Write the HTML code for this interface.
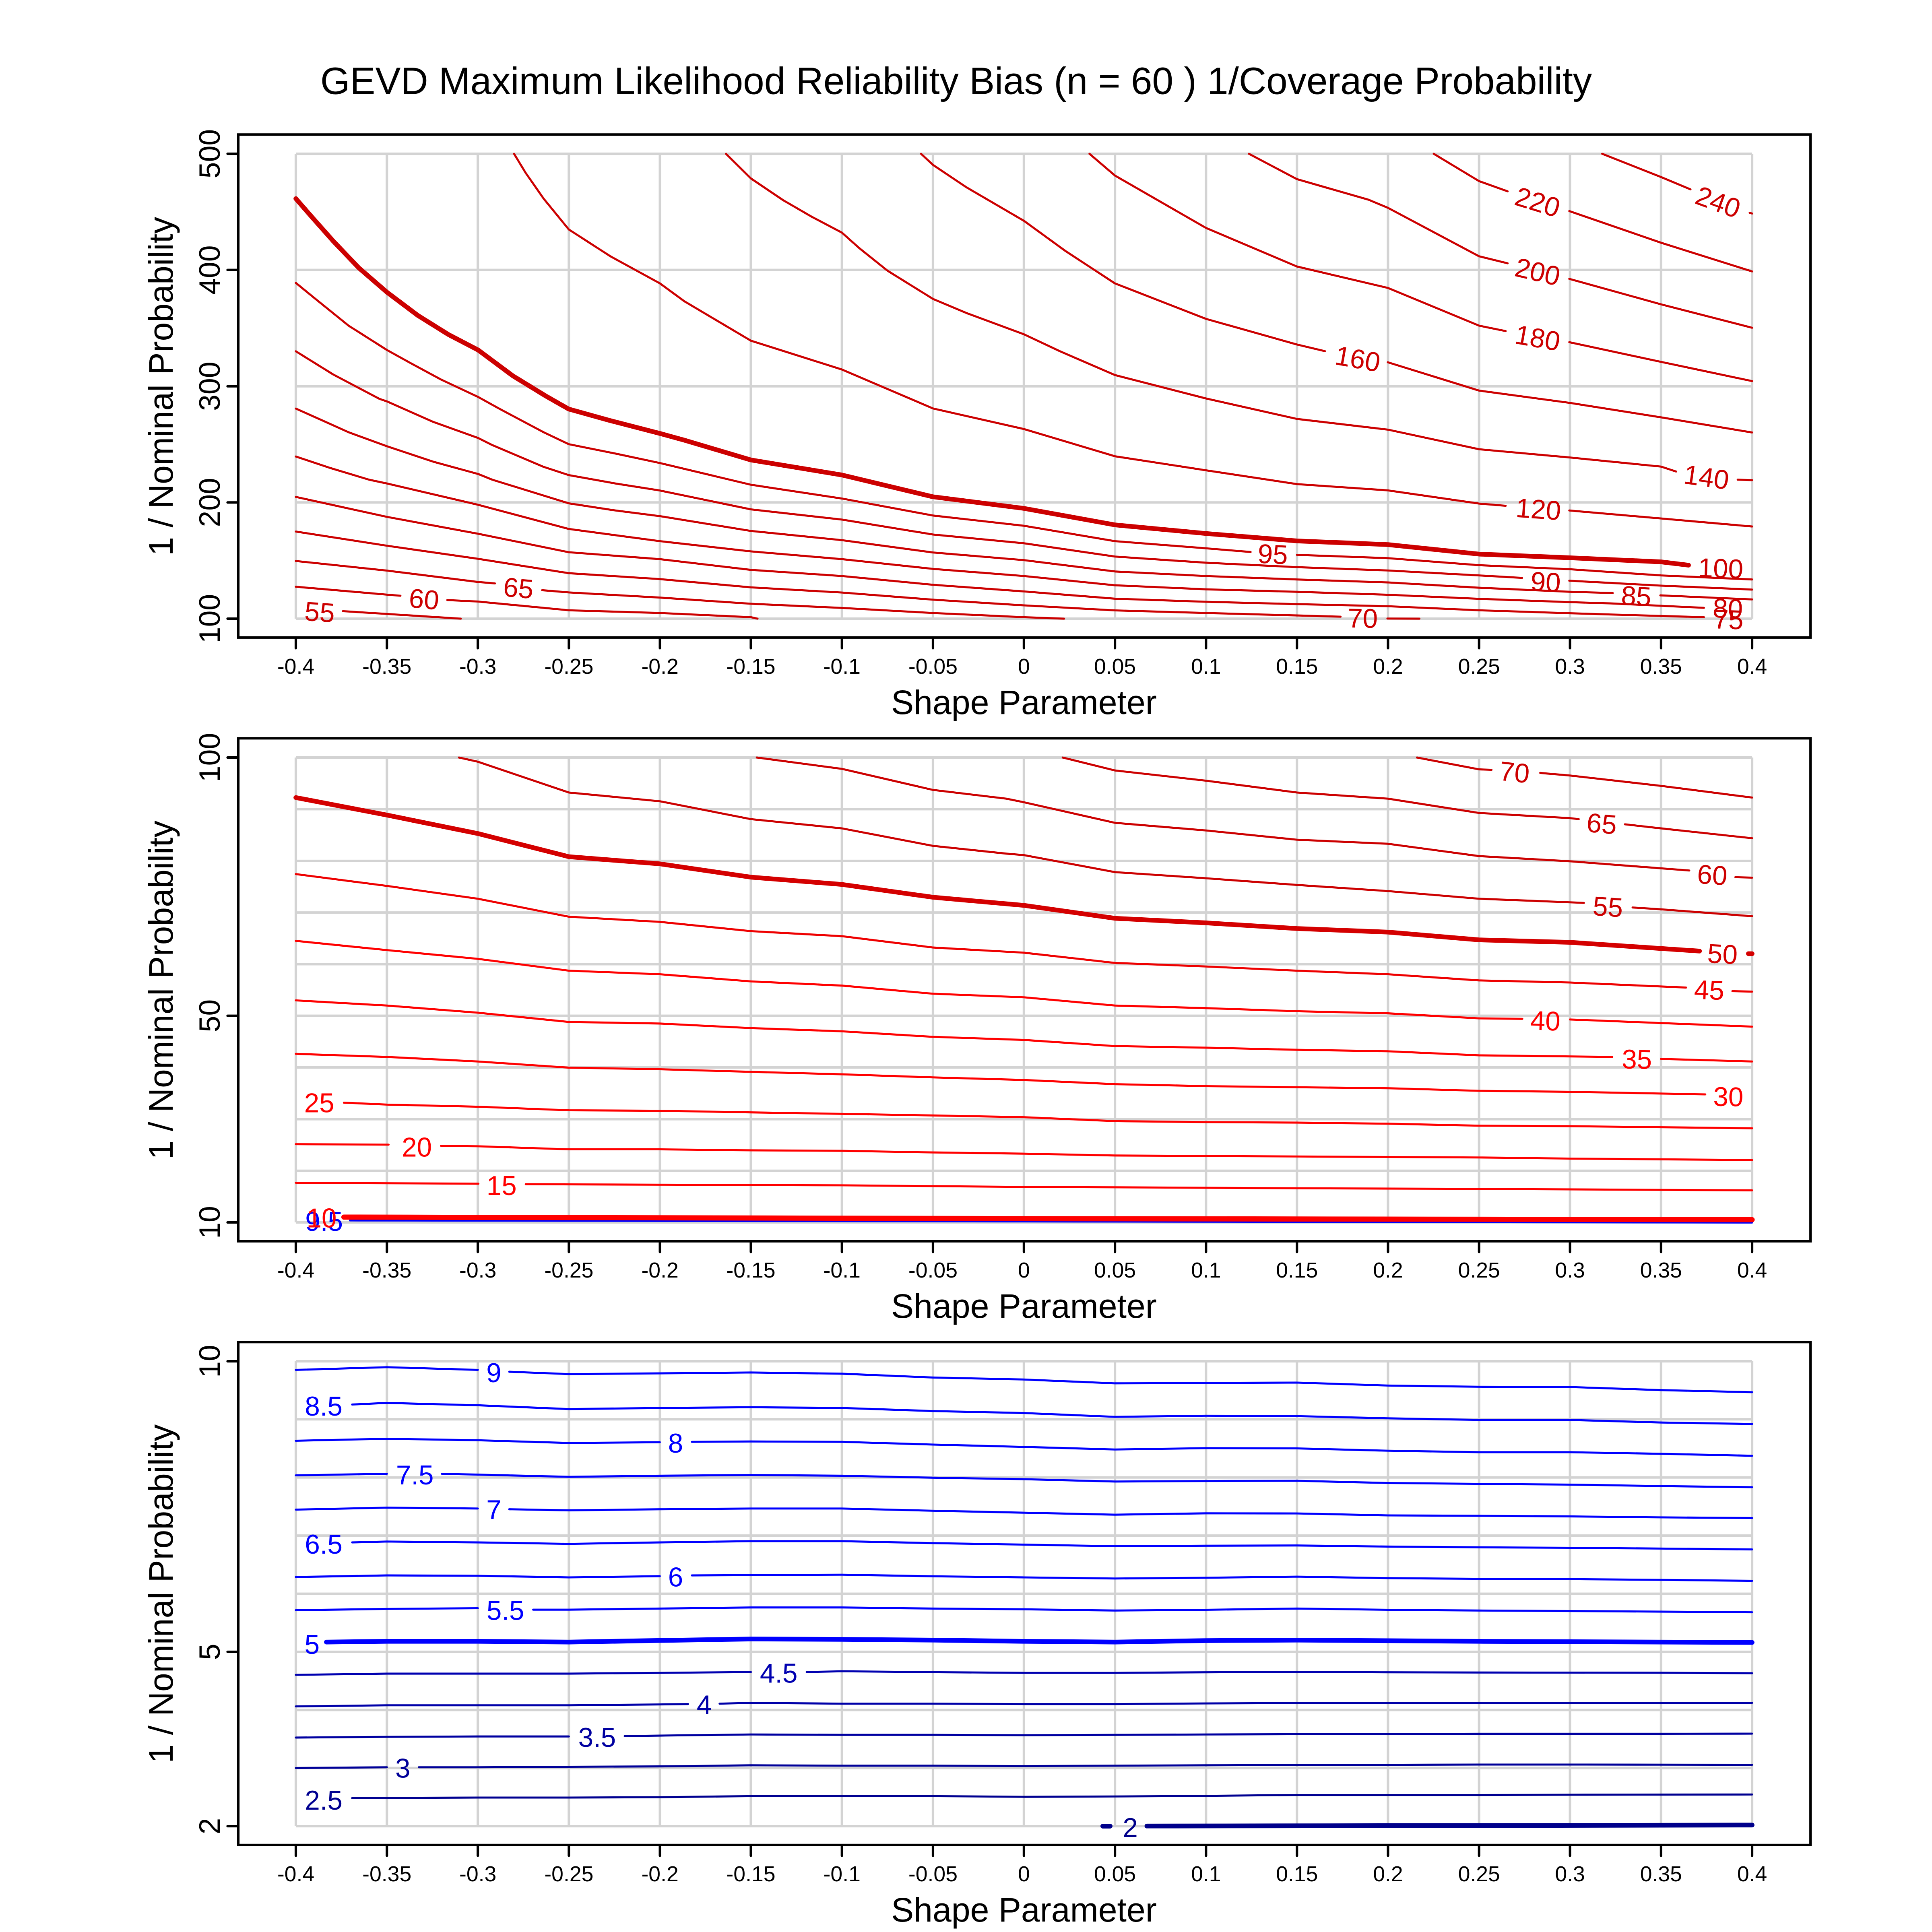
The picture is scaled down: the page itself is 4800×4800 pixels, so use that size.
<!DOCTYPE html>
<html>
<head>
<meta charset="utf-8">
<style>
html,body{margin:0;padding:0;background:#fff;}
svg{display:block;}
text{font-family:"Liberation Sans",Arial,sans-serif;}
</style>
</head>
<body>
<svg xmlns="http://www.w3.org/2000/svg" width="4800" height="4800" viewBox="0 0 1568 1568">
<rect x="0" y="0" width="1568" height="1568" fill="#fff"/>

<!-- Title -->
<text x="260" y="76.2" font-size="30.9" textLength="1032" lengthAdjust="spacingAndGlyphs" fill="#000">GEVD Maximum Likelihood Reliability Bias (n = 60 ) 1/Coverage Probability</text>

<!-- ===================== GRIDLINES ===================== -->
<g stroke="#D3D3D3" stroke-width="2" fill="none">
  <line x1="240.1" y1="124.8" x2="1422" y2="124.8"/>
  <line x1="240.1" y1="219.1" x2="1422" y2="219.1"/>
  <line x1="240.1" y1="313.5" x2="1422" y2="313.5"/>
  <line x1="240.1" y1="407.8" x2="1422" y2="407.8"/>
  <line x1="240.1" y1="502.1" x2="1422" y2="502.1"/>
  <line x1="240.1" y1="614.8" x2="1422" y2="614.8"/>
  <line x1="240.1" y1="656.7" x2="1422" y2="656.7"/>
  <line x1="240.1" y1="698.7" x2="1422" y2="698.7"/>
  <line x1="240.1" y1="740.6" x2="1422" y2="740.6"/>
  <line x1="240.1" y1="782.5" x2="1422" y2="782.5"/>
  <line x1="240.1" y1="824.4" x2="1422" y2="824.4"/>
  <line x1="240.1" y1="866.3" x2="1422" y2="866.3"/>
  <line x1="240.1" y1="908.3" x2="1422" y2="908.3"/>
  <line x1="240.1" y1="950.2" x2="1422" y2="950.2"/>
  <line x1="240.1" y1="992.1" x2="1422" y2="992.1"/>
  <line x1="240.1" y1="1104.8" x2="1422" y2="1104.8"/>
  <line x1="240.1" y1="1151.9" x2="1422" y2="1151.9"/>
  <line x1="240.1" y1="1199.1" x2="1422" y2="1199.1"/>
  <line x1="240.1" y1="1246.3" x2="1422" y2="1246.3"/>
  <line x1="240.1" y1="1293.5" x2="1422" y2="1293.5"/>
  <line x1="240.1" y1="1340.6" x2="1422" y2="1340.6"/>
  <line x1="240.1" y1="1387.8" x2="1422" y2="1387.8"/>
  <line x1="240.1" y1="1434.9" x2="1422" y2="1434.9"/>
  <line x1="240.1" y1="1482.1" x2="1422" y2="1482.1"/>
  <path d="M240.1 124.8V502.1M314 124.8V502.1M387.8 124.8V502.1M461.7 124.8V502.1M535.6 124.8V502.1M609.4 124.8V502.1M683.3 124.8V502.1M757.2 124.8V502.1M831 124.8V502.1M904.9 124.8V502.1M978.8 124.8V502.1M1052.6 124.8V502.1M1126.5 124.8V502.1M1200.4 124.8V502.1M1274.2 124.8V502.1M1348.1 124.8V502.1M1422 124.8V502.1"/>
  <path d="M240.1 614.8V992.1M314 614.8V992.1M387.8 614.8V992.1M461.7 614.8V992.1M535.6 614.8V992.1M609.4 614.8V992.1M683.3 614.8V992.1M757.2 614.8V992.1M831 614.8V992.1M904.9 614.8V992.1M978.8 614.8V992.1M1052.6 614.8V992.1M1126.5 614.8V992.1M1200.4 614.8V992.1M1274.2 614.8V992.1M1348.1 614.8V992.1M1422 614.8V992.1"/>
  <path d="M240.1 1104.8V1482.1M314 1104.8V1482.1M387.8 1104.8V1482.1M461.7 1104.8V1482.1M535.6 1104.8V1482.1M609.4 1104.8V1482.1M683.3 1104.8V1482.1M757.2 1104.8V1482.1M831 1104.8V1482.1M904.9 1104.8V1482.1M978.8 1104.8V1482.1M1052.6 1104.8V1482.1M1126.5 1104.8V1482.1M1200.4 1104.8V1482.1M1274.2 1104.8V1482.1M1348.1 1104.8V1482.1M1422 1104.8V1482.1"/>
</g>

<!-- ===================== PANEL 1 CONTOURS ===================== -->
<g fill="none" stroke="#CC0000" stroke-width="1.65" stroke-linecap="round" stroke-linejoin="round">
  <polyline points="1300.3,124.8 1348.1,143.7 1372,153.7"/>
  <polyline points="1420,172.7 1422,173.3"/>
  <polyline points="1163.6,124.8 1200.4,147 1223.6,155.3"/>
  <polyline points="1273.6,171.3 1348.1,197 1422,220.3"/>
  <polyline points="1013.6,124.8 1052.6,145.4 1110.7,162.1 1126.5,168.7 1200.4,208 1223.6,213.7"/>
  <polyline points="1273.6,226.3 1348.1,247 1422,266"/>
  <polyline points="884.2,124.8 904.9,142.5 978.8,185 1052.6,216.3 1126.5,233.7 1200.4,264.3 1222,268.7"/>
  <polyline points="1273.6,277.7 1348.1,293.7 1422,309.3"/>
  <polyline points="747.5,124.8 757.2,133.8 784.5,152.1 831,179.2 864.7,203.7 904.9,230 978.8,258.8 1052.6,279.6 1075.3,285"/>
  <polyline points="1126.3,294 1200.4,317 1274.2,327 1348.1,338.7 1422,351"/>
  <polyline points="589.2,124.8 609.4,144.8 635.5,162.4 658.4,175.7 683.3,188.8 697.4,201.4 720.3,219.7 757.2,242.6 784.5,254.1 831,271.3 860.1,285 904.9,304.4 978.8,323.4 1052.6,340 1126.5,348.7 1200.4,364.6 1274.2,371.3 1348.1,378.7 1360.3,382.7"/>
  <polyline points="1410.3,389.3 1422,389.7"/>
  <polyline points="417.2,124.8 426.6,140.3 441.2,161.2 461.6,186.2 495.4,208 535.6,230 555.4,244.5 609.4,276.5 683.3,299.9 757.2,331.5 831,348.2 904.9,370.3 978.8,381.7 1052.6,392.9 1126.5,398 1200.4,408.7 1222,410.5"/>
  <polyline points="1273.6,414.3 1348.1,420.8 1422,427.3"/>
  <polyline stroke-width="3.8" points="240.1,161.2 253.7,176.8 270.4,195.6 291.2,217.4 314.1,237.2 339.1,256 364.1,271.6 388.1,284.1 416.2,305 443.3,321.6 461.6,332 495.4,341.4 535.6,351.8 555.3,357.2 609.4,373.3 683.3,385.5 757.2,403.2 831,412.6 904.9,426 978.8,433 1052.6,439 1126.5,442 1200.4,449.7 1274.2,452.7 1348.1,456 1370.4,458.7"/>
  <polyline points="240.1,229.6 255.8,242.4 282.9,264.3 314.1,284.1 332.9,294.5 357.9,308 388.1,322.2 405.8,332 441.2,350.8 461.6,360.5 499.5,368.1 535.6,375.8 609.4,393.4 683.3,404.6 757.2,418.4 831,426.7 904.9,439.2 978.8,445 1015,448"/>
  <polyline points="1052.6,450.3 1126.5,453 1200.4,458.7 1274.2,462 1348.1,467 1422,470.3"/>
  <polyline points="240.1,285.1 270.4,303.9 307.9,323.7 314.1,325.8 351.6,342.4 388.1,355.5 399.5,361.2 441.2,378.9 461.6,385.6 499.5,392.4 535.6,398.1 609.4,413.4 683.3,421.7 757.2,433.8 831,440.9 904.9,451.7 978.8,456.7 1052.6,460.3 1126.5,463 1200.4,467 1235.3,469"/>
  <polyline points="1273.6,471.3 1348.1,475.3 1422,478.5"/>
  <polyline points="240.1,331.6 262,341.4 282.9,350.8 314.1,362.2 351.6,374.7 388.1,384.7 399.5,389.3 461.6,408.5 499.5,414.3 535.6,418.9 609.4,430.9 683.3,438.4 757.2,448.4 831,454.6 904.9,463.8 978.8,467.5 1052.6,470.3 1126.5,472.7 1200.4,477 1274.2,480.3 1308.9,481.3"/>
  <polyline points="1347.5,483.2 1422,486.5"/>
  <polyline points="240.1,370.5 268.3,379.9 299.5,389.3 314.1,392.4 388.1,409.7 461.6,429.3 535.6,439.2 609.4,447.5 683.3,453.8 757.2,461.7 831,467.5 904.9,475 978.8,478.3 1052.6,480.3 1126.5,482.7 1200.4,486 1274.2,488.7 1306.7,489.7 1382.9,493.3"/>
  <polyline points="240.1,403.3 314.1,419.5 388.1,433.2 461.7,448.2 535.6,453.8 609.4,462.5 683.3,467.5 757.2,474.6 831,480 904.9,485.9 978.8,488.4 1052.6,490.3 1126.5,492 1200.4,495.3 1274.2,497.7 1306.7,498.7 1382.9,500.9"/>
  <polyline points="240.1,431.4 314,442.9 387.8,453.5 461.7,465.2 535.6,470 609.4,476.7 683.3,480.9 757.2,486.7 831,491.3 904.9,495.4 978.8,497.5 1052.6,499.5 1088,500.5"/>
  <polyline points="1126,502 1152,502.1"/>
  <polyline points="240.1,455.3 314,463.1 387.8,472.3 401.7,473.5"/>
  <polyline points="440,479 461.7,480.8 535.6,485 609.4,490 683.3,493.4 757.2,497.5 831,500.9 863.6,502.1"/>
  <polyline points="240.1,476.2 314,482.6 325,483.5"/>
  <polyline points="363,487 387.8,488.2 461.7,495.3 535.6,497.5 609.4,500.9 614.8,502.1"/>
  <polyline points="278.3,496 374,502.1"/>
</g>
<g fill="#CC0000" font-size="22" text-anchor="middle">
  <text x="1394.5" y="171.6" transform="rotate(20 1394.5 163.7)">240</text>
  <text x="1248" y="171.6" transform="rotate(17 1248 163.7)">220</text>
  <text x="1248" y="228.2" transform="rotate(13 1248 220.3)">200</text>
  <text x="1248" y="281.9" transform="rotate(10 1248 274)">180</text>
  <text x="1102" y="298.9" transform="rotate(10 1102 291)">160</text>
  <text x="1385" y="394.9" transform="rotate(8 1385 387)">140</text>
  <text x="1248.6" y="420.9" transform="rotate(4 1248.6 413)">120</text>
  <text x="1396.5" y="468.9" transform="rotate(2 1396.5 461)">100</text>
  <text x="1033" y="457.4" transform="rotate(3 1033 449.5)">95</text>
  <text x="1254.5" y="479.9" transform="rotate(3 1254.5 472)">90</text>
  <text x="1328" y="491.4" transform="rotate(3 1328 483.5)">85</text>
  <text x="1402.3" y="501.4" transform="rotate(2 1402.3 493.5)">80</text>
  <text x="1402.8" y="510.4" transform="rotate(2 1402.8 502.5)">75</text>
  <text x="1106" y="509.4" transform="rotate(1 1106 501.5)">70</text>
  <text x="420.8" y="484.9" transform="rotate(5 420.8 477)">65</text>
  <text x="344.2" y="493.9" transform="rotate(5 344.2 486)">60</text>
  <text x="259.5" y="504.4" transform="rotate(4 259.5 496.5)">55</text>
</g>

<!-- ===================== PANEL 2 CONTOURS ===================== -->
<g fill="none" stroke-width="1.65" stroke-linecap="round" stroke-linejoin="round">
  <g stroke="#CC0000">
    <polyline points="1150,614.8 1200.4,624.4 1210.5,624.8"/>
    <polyline points="1250,627.3 1274.2,629.4 1348.1,637.8 1422,647.3"/>
    <polyline points="862.5,614.8 904.9,625.3 978.8,633.6 1052.6,643.2 1126.5,648.2 1200.4,659.8 1274.2,664 1281.3,664.8"/>
    <polyline points="1318.8,669 1348.1,672.3 1422,680.3"/>
    <polyline points="614.2,614.8 683.3,624 757.2,641.1 816.7,648.2 831,651.1 904.9,667.8 978.8,674 1052.6,681.5 1126.5,684.8 1200.4,694.8 1274.2,699 1371,706.5"/>
    <polyline points="1408.4,711.9 1422,712.3"/>
    <polyline points="372.5,614.8 387.8,618.2 461.7,643.2 535.6,650.3 609.4,664.8 683.3,672.3 757.2,686.5 816.7,692.8 831,694 904.9,707.8 978.8,712.8 1052.6,718.2 1126.5,723.2 1200.4,729.4 1274.2,732.3 1285.5,732.8"/>
    <polyline points="1325,736.5 1348.1,738 1422,743.6"/>
  </g>
  <g stroke="#D40000">
    <polyline stroke-width="3.8" points="240.1,647.3 314,661.5 387.8,676.5 461.7,695.3 535.6,701.1 609.4,711.9 683.3,717.8 757.2,728.2 831,734.8 904.9,745.3 978.8,749 1052.6,753.6 1126.5,756.5 1200.4,762.8 1274.2,764.8 1379.3,771.9"/>
    <polyline stroke-width="3.8" points="1419,774 1422,774"/>
  </g>
  <g stroke="#EE0000">
    <polyline points="240.1,709.4 314,719 387.8,729.4 461.7,744 535.6,748.2 609.4,755.7 683.3,759.8 757.2,769 831,773.2 904.9,781.5 978.8,784.4 1052.6,787.8 1126.5,790.7 1200.4,795.7 1274.2,797.4 1368.4,801.5"/>
    <polyline points="1406,804.4 1422,804.8"/>
  </g>
  <g stroke="#FF0000">
    <polyline points="240.1,763.6 314,771.1 387.8,778.2 461.7,787.8 535.6,790.7 609.4,796.5 683.3,799.9 757.2,806.5 831,809.4 904.9,816.1 978.8,818.2 1052.6,820.7 1126.5,822.4 1200.4,826.5 1235.5,826.9"/>
    <polyline points="1274.2,827.4 1348.1,830.3 1422,833.2"/>
    <polyline points="240.1,811.9 314,816.1 387.8,821.9 461.7,829.4 535.6,830.7 609.4,834.4 683.3,837 757.2,841.5 831,844 904.9,849 978.8,850.3 1052.6,852 1126.5,853.2 1200.4,856.5 1308.5,857.8"/>
    <polyline points="1348.1,859.4 1422,861.5"/>
    <polyline points="240.1,855.3 314,857.8 387.8,861.5 461.7,866.5 535.6,867.8 609.4,869.9 683.3,871.9 757.2,874.4 831,876.5 904.9,879.9 978.8,881.5 1052.6,882.4 1126.5,883.2 1200.4,885.3 1274.2,886.1 1384,888.2"/>
    <polyline points="279.1,894.9 314,896.5 387.8,898.2 461.7,901.1 535.6,901.5 609.4,902.8 683.3,904 757.2,905.3 831,906.7 904.9,909.9 978.8,910.7 1052.6,911.1 1126.5,912 1200.4,913.6 1274.2,914 1422,915.7"/>
    <polyline points="240.1,928.6 315.4,929"/>
    <polyline points="357.9,929.9 387.8,930.3 461.7,932.8 535.6,932.8 609.4,933.6 683.3,934 757.2,935.3 831,936.3 904.9,937.8 978.8,938.2 1052.6,938.6 1126.5,939 1200.4,939.4 1274.2,940.3 1422,941.5"/>
    <polyline points="240.1,959.9 388.3,960.7"/>
    <polyline points="426.7,961.1 535.6,961.5 683.3,962 831,963.3 904.9,963.6 1052.6,964.4 1200.4,964.9 1422,966.1"/>
  </g>
  <polyline stroke="#0000FF" points="284,990.5 816.7,991.3 1422,992.2"/>
  <polyline stroke="#FF0000" stroke-width="4.2" points="279.1,987.8 816.7,989 1422,989.9"/>
</g>
<g font-size="22" text-anchor="middle">
  <g fill="#CC0000">
    <text x="1229.2" y="634.4" transform="rotate(6 1229.2 626.5)">70</text>
    <text x="1300" y="676.1" transform="rotate(5 1300 668.2)">65</text>
    <text x="1389.7" y="717.7" transform="rotate(4 1389.7 709.8)">60</text>
    <text x="1305" y="743.6" transform="rotate(4 1305 735.7)">55</text>
  </g>
  <text fill="#D40000" x="1398" y="781.9" transform="rotate(3 1398 774)">50</text>
  <text fill="#EE0000" x="1387.2" y="811.1" transform="rotate(2 1387.2 803.2)">45</text>
  <g fill="#FF0000">
    <text x="1254.2" y="836.1" transform="rotate(2 1254.2 828.2)">40</text>
    <text x="1328.5" y="867.3" transform="rotate(1 1328.5 859.4)">35</text>
    <text x="1402.7" y="897.7" transform="rotate(1 1402.7 889.8)">30</text>
    <text x="259.1" y="902.8">25</text>
    <text x="338.3" y="938.6">20</text>
    <text x="407.1" y="969.9">15</text>
  </g>
  <text fill="#0000FF" x="263" y="999">9.5</text>
  <text fill="#FF0000" x="261" y="996.1">10</text>
</g>

<!-- ===================== PANEL 3 CONTOURS ===================== -->
<g fill="none" stroke-width="1.65" stroke-linecap="round" stroke-linejoin="round">
  <g stroke="#0000FF">
    <polyline points="240.1,1111.8 314,1109.6 387.8,1111.8"/>
    <polyline points="413.3,1113.3 461.7,1115.2 535.6,1114.6 609.4,1113.9 683.3,1114.9 757.2,1118 831,1119.6 904.9,1122.7 978.8,1122.4 1052.6,1122.1 1126.5,1124.5 1200.4,1125.5 1274.2,1125.7 1348.1,1128.2 1422,1129.9"/>
    <polyline points="285.8,1139.9 314,1138.6 387.8,1140.5 461.7,1143.6 535.6,1142.7 609.4,1142.1 683.3,1142.7 757.2,1145.2 831,1146.8 904.9,1149.9 978.8,1149 1052.6,1149.3 1126.5,1151.1 1200.4,1152.4 1274.2,1152.4 1348.1,1154.5 1422,1155.7"/>
    <polyline points="240.1,1169.3 314,1167.7 387.8,1168.9 461.7,1171.1 535.5,1170.5"/>
    <polyline points="561.5,1170.2 609.4,1169.9 683.3,1170.2 757.2,1172.4 831,1174.3 904.9,1176.4 978.8,1175.3 1052.6,1175.5 1126.5,1177.4 1200.4,1178.6 1274.2,1178.6 1348.1,1179.9 1422,1181.5"/>
    <polyline points="240.1,1197.4 314,1196.1"/>
    <polyline points="358.6,1196.1 387.8,1196.8 461.7,1198.6 535.6,1197.7 609.4,1197.1 683.3,1197.7 757.2,1199.3 831,1200.5 904.9,1202.4 978.8,1202 1052.6,1201.8 1126.5,1203.6 1200.4,1204.3 1274.2,1204.9 1348.1,1206.1 1422,1207"/>
    <polyline points="240.1,1225.2 314,1223.6 387.8,1224.3"/>
    <polyline points="413.3,1224.9 461.7,1225.8 535.6,1224.9 609.4,1224.3 683.3,1224.3 757.2,1226.1 831,1227.7 904.9,1229.3 978.8,1228.2 1052.6,1228.3 1126.5,1229.9 1200.4,1230.2 1274.2,1230.7 1348.1,1231.5 1422,1232"/>
    <polyline points="285.8,1251.8 314,1251.1 387.8,1251.8 461.7,1253 535.6,1251.8 609.4,1250.8 683.3,1250.8 757.2,1252.4 831,1253.6 904.9,1254.9 978.8,1254.5 1052.6,1254.3 1126.5,1255.2 1200.4,1255.8 1274.2,1256.2 1348.1,1256.8 1422,1257.5"/>
    <polyline points="240.1,1279.9 314,1278.6 387.8,1278.9 461.7,1280.2 535.5,1279.2"/>
    <polyline points="561.5,1278.6 609.4,1278.3 683.3,1278 757.2,1279.3 831,1280.2 904.9,1281.1 978.8,1280.5 1052.6,1279.6 1126.5,1280.8 1200.4,1281.4 1274.2,1281.6 1348.1,1282.2 1422,1283"/>
    <polyline points="240.1,1306.8 314,1305.8 387.8,1305.2"/>
    <polyline points="432.7,1306.4 461.7,1306.4 535.6,1305.5 609.4,1304.6 683.3,1304.6 757.2,1305.5 831,1306.1 904.9,1307.1 978.8,1306.5 1052.6,1305.5 1126.5,1306.5 1200.4,1307.1 1274.2,1307.5 1348.1,1308 1422,1308.5"/>
    <polyline stroke-width="3.8" points="264.9,1332.7 314,1332.1 387.8,1332.1 461.7,1332.7 535.6,1331.4 609.4,1330.2 683.3,1330.5 757.2,1331.1 831,1332.1 904.9,1332.7 978.8,1331.5 1052.6,1331.1 1126.5,1331.6 1200.4,1332.1 1274.2,1332.4 1348.1,1332.7 1422,1333"/>
  </g>
  <g stroke="#0000B0">
    <polyline points="240.1,1359.3 314,1358.3 387.8,1358.3 461.7,1358.3 535.6,1357.7 609.4,1357"/>
    <polyline points="654.7,1357 683.3,1356.4 757.2,1357.1 831,1357.7 904.9,1357.7 978.8,1357.2 1052.6,1356.8 1126.5,1357.2 1200.4,1357.4 1274.2,1357.5 1348.1,1357.6 1422,1358"/>
  </g>
  <g stroke="#0000A8">
    <polyline points="240.1,1384.9 314,1384 387.8,1384 461.7,1384 535.6,1383.3 558.4,1383"/>
    <polyline points="584,1382.7 609.4,1382 683.3,1382.7 757.2,1382.7 831,1383 904.9,1383 978.8,1382.5 1052.6,1382.1 1126.5,1382.1 1200.4,1382.1 1274.2,1382 1348.1,1382 1422,1382"/>
  </g>
  <g stroke="#0000A0">
    <polyline points="240.1,1410.2 314,1409.6 387.8,1409.3 461.7,1409.3"/>
    <polyline points="507,1409 535.6,1408.6 609.4,1407.7 683.3,1408 757.2,1408 831,1408.3 904.9,1408 978.8,1407.7 1052.6,1407.4 1126.5,1407.3 1200.4,1407.1 1274.2,1407.1 1348.1,1407.1 1422,1407"/>
  </g>
  <g stroke="#000098">
    <polyline points="240.1,1434.9 314,1434.3"/>
    <polyline points="339.9,1434.3 387.8,1434.3 461.7,1433.9 535.6,1433.6 609.4,1432.7 683.3,1433 757.2,1433 831,1433.3 904.9,1433 978.8,1432.7 1052.6,1432.4 1126.5,1432.3 1200.4,1432.1 1274.2,1432.1 1348.1,1432.2 1422,1432.3"/>
  </g>
  <g stroke="#000090">
    <polyline points="285.8,1459.3 387.8,1458.9 461.7,1458.9 535.6,1458.6 609.4,1457.7 683.3,1457.7 757.2,1457.7 831,1458.3 904.9,1458 978.8,1457.5 1052.6,1456.8 1126.5,1456.8 1200.4,1456.8 1274.2,1456.6 1348.1,1456.5 1422,1456.4"/>
  </g>
  <g stroke="#00008B" stroke-width="3.8">
    <polyline points="895,1482.1 901,1482.1"/>
    <polyline points="930.8,1482 1200,1481.6 1422,1481.2"/>
  </g>
</g>
<g font-size="22" text-anchor="middle">
  <g fill="#0000FF">
    <text x="400.8" y="1121.8">9</text>
    <text x="262.7" y="1148.9">8.5</text>
    <text x="548.3" y="1179">8</text>
    <text x="336.7" y="1204.7">7.5</text>
    <text x="400.8" y="1232.8">7</text>
    <text x="262.7" y="1260.9">6.5</text>
    <text x="548.3" y="1287.5">6</text>
    <text x="410.2" y="1314.7">5.5</text>
    <text x="253.3" y="1342.2">5</text>
  </g>
  <text fill="#0000B0" x="632" y="1365.6">4.5</text>
  <text fill="#0000A8" x="571.5" y="1391.2">4</text>
  <text fill="#0000A0" x="484.6" y="1417.8">3.5</text>
  <text fill="#000098" x="326.9" y="1442.8">3</text>
  <text fill="#000090" x="262.7" y="1468.7">2.5</text>
  <text fill="#00008B" x="917.3" y="1490.9">2</text>
</g>

<!-- ===================== FRAMES & TICKS ===================== -->
<g fill="none" stroke="#000" stroke-width="2">
  <rect x="193.4" y="109.2" width="1276" height="408.2"/>
  <rect x="193.4" y="599.2" width="1276" height="408.2"/>
  <rect x="193.4" y="1089.2" width="1276" height="408.2"/>
  <path stroke-linecap="round" d="M240.1 517.4v8.7M314 517.4v8.7M387.8 517.4v8.7M461.7 517.4v8.7M535.6 517.4v8.7M609.4 517.4v8.7M683.3 517.4v8.7M757.2 517.4v8.7M831 517.4v8.7M904.9 517.4v8.7M978.8 517.4v8.7M1052.6 517.4v8.7M1126.5 517.4v8.7M1200.4 517.4v8.7M1274.2 517.4v8.7M1348.1 517.4v8.7M1422 517.4v8.7"/>
  <path stroke-linecap="round" d="M240.1 1007.4v8.7M314 1007.4v8.7M387.8 1007.4v8.7M461.7 1007.4v8.7M535.6 1007.4v8.7M609.4 1007.4v8.7M683.3 1007.4v8.7M757.2 1007.4v8.7M831 1007.4v8.7M904.9 1007.4v8.7M978.8 1007.4v8.7M1052.6 1007.4v8.7M1126.5 1007.4v8.7M1200.4 1007.4v8.7M1274.2 1007.4v8.7M1348.1 1007.4v8.7M1422 1007.4v8.7"/>
  <path stroke-linecap="round" d="M240.1 1497.4v8.7M314 1497.4v8.7M387.8 1497.4v8.7M461.7 1497.4v8.7M535.6 1497.4v8.7M609.4 1497.4v8.7M683.3 1497.4v8.7M757.2 1497.4v8.7M831 1497.4v8.7M904.9 1497.4v8.7M978.8 1497.4v8.7M1052.6 1497.4v8.7M1126.5 1497.4v8.7M1200.4 1497.4v8.7M1274.2 1497.4v8.7M1348.1 1497.4v8.7M1422 1497.4v8.7"/>
  <path stroke-linecap="round" d="M193.4 124.8h-8.7M193.4 219.1h-8.7M193.4 313.5h-8.7M193.4 407.8h-8.7M193.4 502.1h-8.7"/>
  <path stroke-linecap="round" d="M193.4 614.8h-8.7M193.4 824.4h-8.7M193.4 992.1h-8.7"/>
  <path stroke-linecap="round" d="M193.4 1104.8h-8.7M193.4 1340.6h-8.7M193.4 1482.1h-8.7"/>
</g>

<!-- x tick labels -->
<g font-size="17.5" text-anchor="middle" fill="#000">
  <g>
    <text x="240.1" y="546.8">-0.4</text><text x="314" y="546.8">-0.35</text><text x="387.8" y="546.8">-0.3</text><text x="461.7" y="546.8">-0.25</text><text x="535.6" y="546.8">-0.2</text><text x="609.4" y="546.8">-0.15</text><text x="683.3" y="546.8">-0.1</text><text x="757.2" y="546.8">-0.05</text><text x="831" y="546.8">0</text><text x="904.9" y="546.8">0.05</text><text x="978.8" y="546.8">0.1</text><text x="1052.6" y="546.8">0.15</text><text x="1126.5" y="546.8">0.2</text><text x="1200.4" y="546.8">0.25</text><text x="1274.2" y="546.8">0.3</text><text x="1348.1" y="546.8">0.35</text><text x="1422" y="546.8">0.4</text>
  </g>
  <g>
    <text x="240.1" y="1036.8">-0.4</text><text x="314" y="1036.8">-0.35</text><text x="387.8" y="1036.8">-0.3</text><text x="461.7" y="1036.8">-0.25</text><text x="535.6" y="1036.8">-0.2</text><text x="609.4" y="1036.8">-0.15</text><text x="683.3" y="1036.8">-0.1</text><text x="757.2" y="1036.8">-0.05</text><text x="831" y="1036.8">0</text><text x="904.9" y="1036.8">0.05</text><text x="978.8" y="1036.8">0.1</text><text x="1052.6" y="1036.8">0.15</text><text x="1126.5" y="1036.8">0.2</text><text x="1200.4" y="1036.8">0.25</text><text x="1274.2" y="1036.8">0.3</text><text x="1348.1" y="1036.8">0.35</text><text x="1422" y="1036.8">0.4</text>
  </g>
  <g>
    <text x="240.1" y="1526.8">-0.4</text><text x="314" y="1526.8">-0.35</text><text x="387.8" y="1526.8">-0.3</text><text x="461.7" y="1526.8">-0.25</text><text x="535.6" y="1526.8">-0.2</text><text x="609.4" y="1526.8">-0.15</text><text x="683.3" y="1526.8">-0.1</text><text x="757.2" y="1526.8">-0.05</text><text x="831" y="1526.8">0</text><text x="904.9" y="1526.8">0.05</text><text x="978.8" y="1526.8">0.1</text><text x="1052.6" y="1526.8">0.15</text><text x="1126.5" y="1526.8">0.2</text><text x="1200.4" y="1526.8">0.25</text><text x="1274.2" y="1526.8">0.3</text><text x="1348.1" y="1526.8">0.35</text><text x="1422" y="1526.8">0.4</text>
  </g>
</g>

<!-- y tick labels (rotated) -->
<g font-size="24" text-anchor="middle" fill="#000">
  <text x="178.4" y="124.8" transform="rotate(-90 178.4 124.8)">500</text>
  <text x="178.4" y="219.1" transform="rotate(-90 178.4 219.1)">400</text>
  <text x="178.4" y="313.5" transform="rotate(-90 178.4 313.5)">300</text>
  <text x="178.4" y="407.8" transform="rotate(-90 178.4 407.8)">200</text>
  <text x="178.4" y="502.1" transform="rotate(-90 178.4 502.1)">100</text>
  <text x="178.4" y="614.8" transform="rotate(-90 178.4 614.8)">100</text>
  <text x="178.4" y="824.4" transform="rotate(-90 178.4 824.4)">50</text>
  <text x="178.4" y="992.1" transform="rotate(-90 178.4 992.1)">10</text>
  <text x="178.4" y="1104.8" transform="rotate(-90 178.4 1104.8)">10</text>
  <text x="178.4" y="1340.6" transform="rotate(-90 178.4 1340.6)">5</text>
  <text x="178.4" y="1482.1" transform="rotate(-90 178.4 1482.1)">2</text>
</g>

<!-- axis titles -->
<g font-size="27.5" text-anchor="middle" fill="#000">
  <text x="831" y="579.5">Shape Parameter</text>
  <text x="831" y="1069.5">Shape Parameter</text>
  <text x="831" y="1559.5">Shape Parameter</text>
  <text x="140.2" y="313.5" transform="rotate(-90 140.2 313.5)">1 / Nominal Probability</text>
  <text x="140.2" y="803.5" transform="rotate(-90 140.2 803.5)">1 / Nominal Probability</text>
  <text x="140.2" y="1293.5" transform="rotate(-90 140.2 1293.5)">1 / Nominal Probability</text>
</g>
</svg>
</body>
</html>
